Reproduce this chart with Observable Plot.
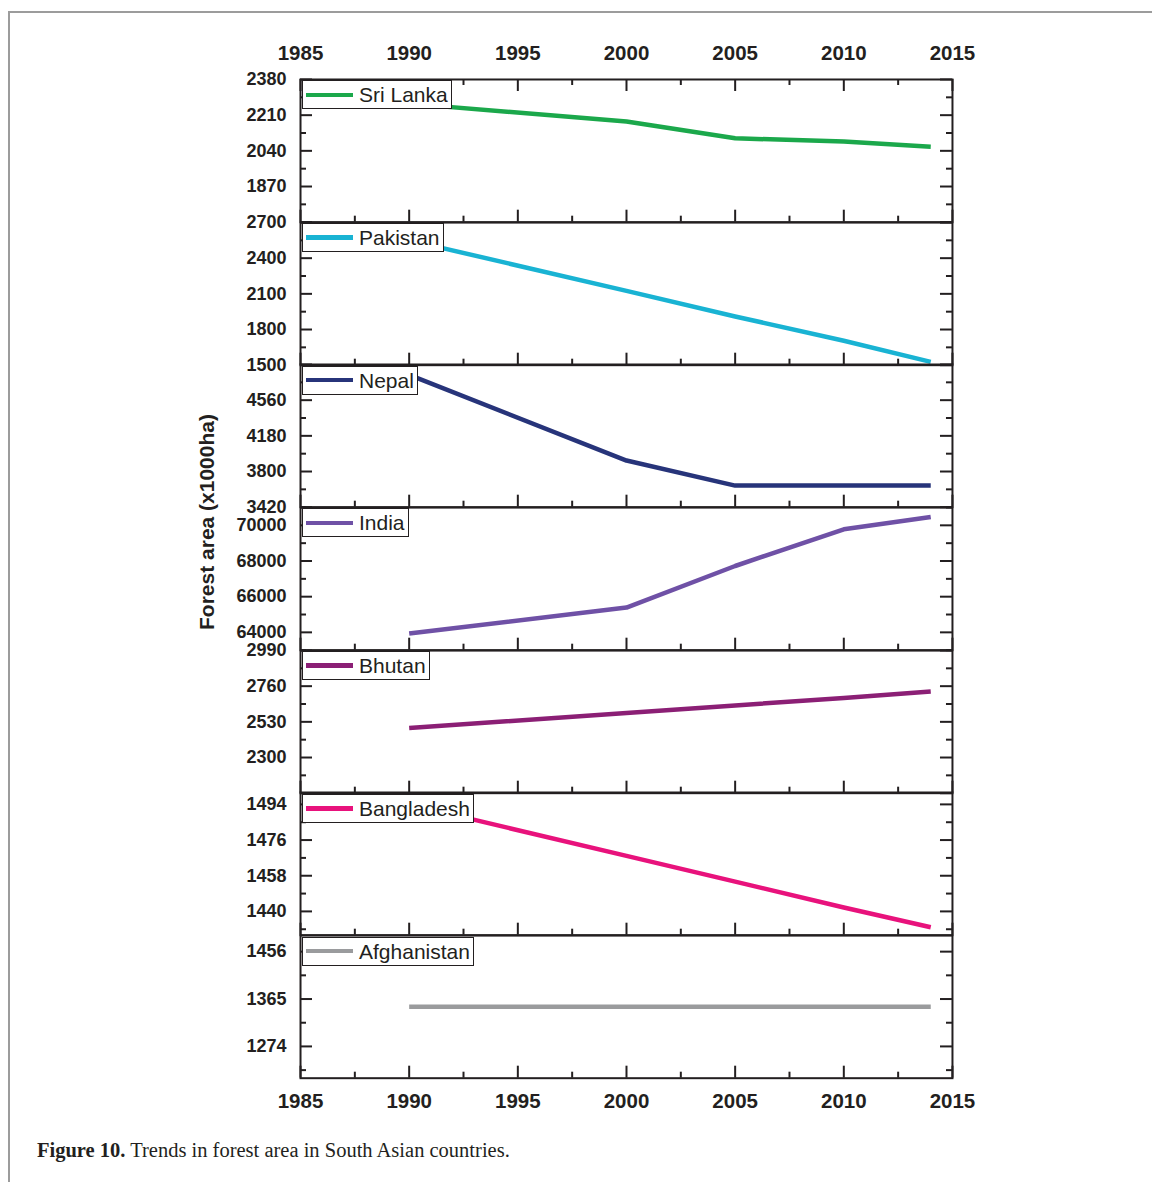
<!DOCTYPE html>
<html>
<head>
<meta charset="utf-8">
<script src="https://cdn.jsdelivr.net/npm/d3@7"></script>
<script src="https://cdn.jsdelivr.net/npm/@observablehq/plot@0.6"></script>
<style>
  html, body { margin: 0; padding: 0; background: #fff; overflow: hidden; }
  #page { position: relative; width: 1152px; height: 1182px; }
  .cadre { position: absolute; left: 8px; top: 11px; width: 1200px; height: 1200px;
           border-left: 2px solid #9c9c9c; border-top: 2px solid #9c9c9c; }
  .leyenda { position: absolute; left: 302px; height: 29px; box-sizing: border-box;
             border: 1px solid #231f20; background: #fff; display: flex; align-items: center;
             padding: 0 3px 0 3px; font: 21px "Liberation Sans", Arial, sans-serif; color: #231f20;
             line-height: 1; white-space: nowrap; }
  .leyenda .muestra { display: inline-block; width: 47px; height: 4.5px; margin-right: 6px; }
  .titulo-y { position: absolute; left: 207px; top: 522px; transform: translate(-50%, -50%) rotate(-90deg);
              font: bold 21px "Liberation Sans", Arial, sans-serif; color: #231f20; white-space: nowrap; }
  .pie { position: absolute; left: 37px; top: 1139px; font: 20.5px "Liberation Serif", "Times New Roman", serif;
         color: #231f20; white-space: nowrap; }
</style>
</head>
<body>
<div id="page">
  <div class="cadre"></div>
  <div class="titulo-y">Forest area (x1000ha)</div>
  <div class="pie"><b>Figure 10.</b> Trends in forest area in South Asian countries.</div>
</div>
<script>
// años con dato
const years = [1990, 2000, 2005, 2010, 2014];

const countries = ["Sri Lanka", "Pakistan", "Nepal", "India", "Bhutan", "Bangladesh", "Afghanistan"];
const colors = ["#1ba84b", "#19b3d3", "#27347a", "#6f51a6", "#8b1f75", "#e8127c", "#9a9b9d"];

// superficie forestal (x1000 ha)
const sriLanka = [2265, 2180, 2100, 2084, 2060];
const pakistan = [2550, 2125, 1910, 1705, 1528];
const nepal = [4830, 3917, 3650, 3650, 3650];
const india = [63940, 65390, 67720, 69780, 70470];
const bhutan = [2490, 2587, 2636, 2684, 2725];
const bangladesh = [1494, 1468, 1455, 1442, 1432];
const afghanistan = [1350, 1350, 1350, 1350, 1350];
const series = [sriLanka, pakistan, nepal, india, bhutan, bangladesh, afghanistan];

// ejes y de cada panel
const yDomains = [[1700, 2380], [1500, 2700], [3420, 4940], [63000, 71000], [2070, 2990], [1428, 1500], [1213, 1487]];
const yTickLabels = [
  [2380, 2210, 2040, 1870],
  [2700, 2400, 2100, 1800, 1500],
  [4560, 4180, 3800, 3420],
  [70000, 68000, 66000, 64000],
  [2990, 2760, 2530, 2300],
  [1494, 1476, 1458, 1440],
  [1456, 1365, 1274]
];
const yTickSteps = [170, 300, 380, 2000, 230, 18, 91];

// eje x
const xDomain = [1985, 2015];
const xTickLabels = [1985, 1990, 1995, 2000, 2005, 2010, 2015];
const xMinorTicks = [1987.5, 1992.5, 1997.5, 2002.5, 2007.5, 2012.5];

const INK = "#231f20";
const TOP0 = 78.8, PANEL_H = 142.7;
const ML = 300, MR = 48, W = 1000;
const innerW = W - ML - MR;

function ticksFor(i) {
  const [lo, hi] = yDomains[i];
  const step = yTickSteps[i];
  const base = yTickLabels[i][0];
  const major = [], minor = [];
  for (let v = base; v <= hi + 1e-9; v += step) major.push(v);
  for (let v = base - step; v >= lo - 1e-9; v -= step) major.push(v);
  for (let v = base + step / 2; v <= hi; v += step) minor.push(v);
  for (let v = base - step / 2; v >= lo; v -= step) minor.push(v);
  return { major, minor };
}

function panel(i) {
  const first = i === 0, last = i === countries.length - 1;
  const mt = first ? 80 : 12;
  const mb = last ? 45 : 12;
  const datos = years.map((y, j) => ({ year: y, value: series[i][j] }));
  const { major, minor } = ticksFor(i);

  const marks = [
    Plot.axisY(yTickLabels[i], {
      anchor: "left", tickSize: 0, tickPadding: 14, tickFormat: "d", label: null,
      fontSize: 18, fontWeight: "bold", fill: INK
    }),
    Plot.axisX(first ? xTickLabels : [], {
      anchor: "top", tickSize: 0, tickPadding: 19, tickFormat: "d", label: null,
      fontSize: 20.5, fontWeight: "bold", fill: INK
    }),
    // ticks y hacia dentro, izquierda y derecha
    Plot.tickY(major, { y: (d) => d, insetRight: innerW - 12, stroke: INK, strokeWidth: 2 }),
    Plot.tickY(minor, { y: (d) => d, insetRight: innerW - 6, stroke: INK, strokeWidth: 2 }),
    Plot.tickY(major, { y: (d) => d, insetLeft: innerW - 12, stroke: INK, strokeWidth: 2 }),
    Plot.tickY(minor, { y: (d) => d, insetLeft: innerW - 6, stroke: INK, strokeWidth: 2 }),
    // ticks x abajo, hacia arriba
    Plot.tickX(xTickLabels, { x: (d) => d, insetTop: PANEL_H - 12, stroke: INK, strokeWidth: 2 }),
    Plot.tickX(xMinorTicks, { x: (d) => d, insetTop: PANEL_H - 6, stroke: INK, strokeWidth: 2 }),
    Plot.line(datos, {
      x: "year", y: "value", stroke: colors[i], strokeWidth: 4.5,
      strokeLinecap: "butt", strokeLinejoin: "round"
    }),
    Plot.frame({ stroke: INK, strokeWidth: 2 })
  ];
  if (first) {
    marks.push(Plot.tickX(xTickLabels, { x: (d) => d, insetBottom: PANEL_H - 12, stroke: INK, strokeWidth: 2 }));
    marks.push(Plot.tickX(xMinorTicks, { x: (d) => d, insetBottom: PANEL_H - 6, stroke: INK, strokeWidth: 2 }));
  }
  if (last) {
    marks.push(Plot.axisX(xTickLabels, {
      anchor: "bottom", tickSize: 0, tickPadding: 15, tickFormat: "d", label: null,
      fontSize: 20.5, fontWeight: "bold", fill: INK
    }));
  }

  const svg = Plot.plot({
    width: W,
    height: mt + PANEL_H + mb,
    marginLeft: ML, marginRight: MR, marginTop: mt, marginBottom: mb,
    style: {
      background: "transparent",
      color: INK,
      fontFamily: "'Liberation Sans', Arial, sans-serif",
      overflow: "visible"
    },
    x: { domain: xDomain },
    y: { domain: yDomains[i] },
    marks
  });
  svg.style.position = "absolute";
  svg.style.left = "0px";
  svg.style.top = (TOP0 + i * PANEL_H - mt) + "px";
  return svg;
}

const page = document.getElementById("page");
countries.forEach((_, i) => page.appendChild(panel(i)));

// leyendas encima de las líneas
countries.forEach((c, i) => {
  const el = document.createElement("div");
  el.className = "leyenda";
  el.style.top = (TOP0 + i * PANEL_H + 1.5) + "px";
  const m = document.createElement("span");
  m.className = "muestra";
  m.style.background = colors[i];
  const t = document.createElement("span");
  t.textContent = c;
  el.appendChild(m);
  el.appendChild(t);
  page.appendChild(el);
});
</script>
</body>
</html>
